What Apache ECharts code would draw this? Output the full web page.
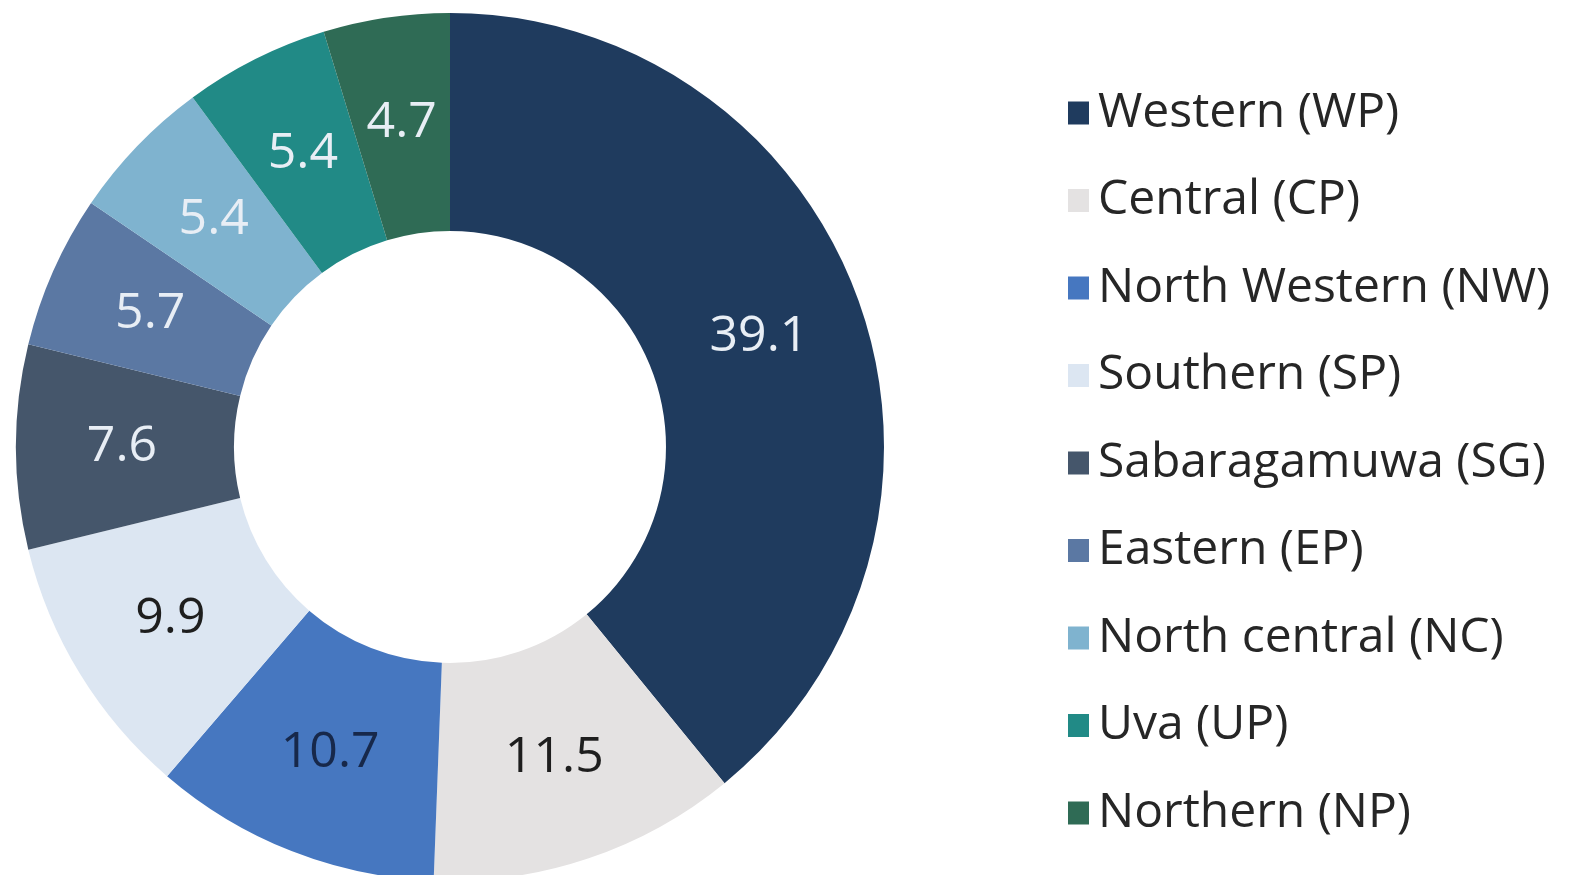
<!DOCTYPE html>
<html>
<head>
<meta charset="utf-8">
<script src="https://cdn.jsdelivr.net/npm/echarts@6/dist/echarts.min.js"></script>
<style>
html,body{margin:0;padding:0;background:#fff;}
#chart{width:1580px;height:875px;}
</style>
</head>
<body>
<div id="chart"></div>
<script>
const categories = ["Western (WP)", "Central (CP)", "North Western (NW)", "Southern (SP)", "Sabaragamuwa (SG)", "Eastern (EP)", "North central (NC)", "Uva (UP)", "Northern (NP)"];
const values = [39.1, 11.5, 10.7, 9.9, 7.6, 5.7, 5.4, 5.4, 4.7];
const colors = ["#1f3b5e", "#e4e2e2", "#4677c0", "#dce6f2", "#45566b", "#5b78a3", "#7fb3cf", "#218a86", "#2f6b55"];
const labelColors = ["#e8eef5", "#1e1e1e", "#17284a", "#1e1e1e", "#e8eef5", "#e8eef5", "#e8eef5", "#e8eef5", "#e8eef5"];

const chart = echarts.init(document.getElementById('chart'), null, {renderer: 'canvas'});
const data = categories.map((c, i) => ({
  name: c,
  value: values[i],
  itemStyle: {color: colors[i]},
  label: {color: labelColors[i]}
}));
chart.setOption({
  backgroundColor: '#ffffff',
  animation: false,
  legend: {
    orient: 'vertical',
    left: 1063,
    top: 83,
    icon: 'rect',
    itemWidth: 21,
    itemHeight: 23,
    itemGap: 37.5,
    textStyle: {fontFamily: 'Open Sans', fontSize: 48, color: '#262626', lineHeight: 50, padding: [0, 0, 0, 4]},
    selectedMode: false,
    data: categories
  },
  series: [{
    type: 'pie',
    center: [450, 447],
    radius: [216, 434],
    startAngle: 90,
    clockwise: true,
    silent: true,
    avoidLabelOverlap: false,
    label: {
      show: true,
      position: 'inside',
      formatter: p => p.value.toFixed(1),
      fontFamily: 'Open Sans',
      fontSize: 50
    },
    labelLine: {show: false},
    itemStyle: {borderWidth: 0},
    data: data
  }]
});
</script>
</body>
</html>
